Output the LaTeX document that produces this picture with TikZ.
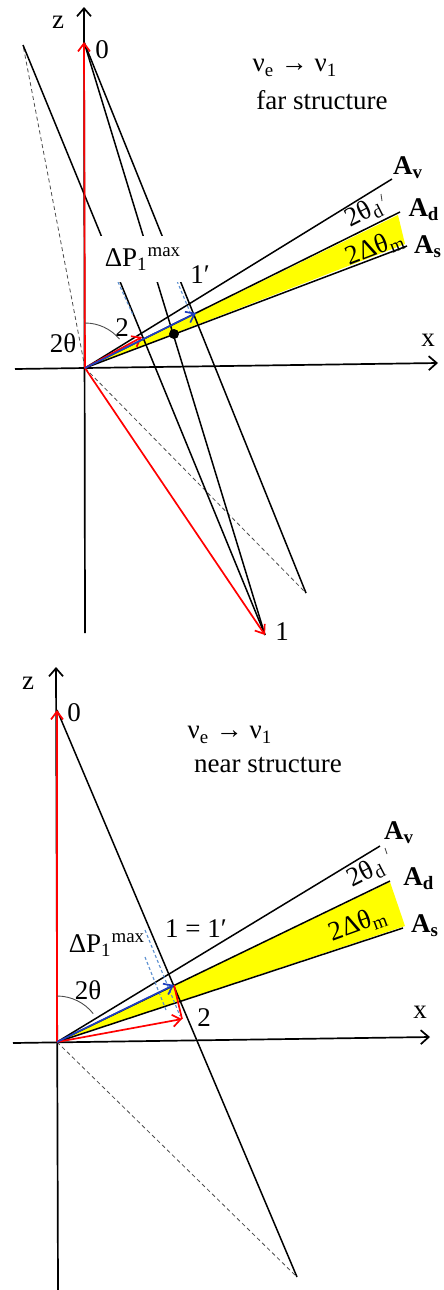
\documentclass[tikz,border=0pt]{standalone}
\usepackage{fontspec}
\setmainfont{Liberation Serif}
\usetikzlibrary{arrows.meta}
\definecolor{vecred}{HTML}{FF0000}
\definecolor{vecblue}{HTML}{1F3FBF}
\definecolor{dashblue}{HTML}{5B8FD0}
\definecolor{bandfill}{HTML}{FFFF00}
\tikzset{
  axis/.style    = {line width=0.85pt, -{Straight Barb[length=4pt,width=7pt]}},
  redvec/.style  = {line width=0.85pt, draw=vecred, -{Straight Barb[length=4pt,width=6pt]}},
  bluevec/.style = {line width=0.85pt, draw=vecblue, -{Straight Barb[length=4pt,width=6pt]}},
  ray/.style     = {line width=0.75pt},
  proj/.style    = {line width=0.4pt, draw=black!70, dash pattern=on 2pt off 1.5pt},
  bproj/.style   = {line width=0.55pt, draw=dashblue, dash pattern=on 1.5pt off 1.2pt},
  arcmark/.style = {line width=0.45pt, draw=black!70},
  lbl/.style     = {font=\fontsize{13.5}{15}\selectfont, inner sep=0pt},
  axlbl/.style   = {font=\fontsize{13.5}{15}\selectfont\bfseries, inner sep=0pt},
  dotmark/.style = {circle, fill=black, inner sep=0pt, minimum size=5pt},
}
\begin{document}
\begin{tikzpicture}[x=0.5pt, y=-0.5pt]
\useasboundingbox (0,0) rectangle (444,1290);

% far structure
\coordinate (O) at (85,368);
\coordinate (zlo) at (85,633);  \coordinate (ztop) at (84,7);
\coordinate (xlo) at (15,369);  \coordinate (xtop) at (438,363);
\coordinate (p0) at (84,42);    \coordinate (p1) at (265,635);
\coordinate (pa) at (23,45);    \coordinate (pb) at (306,593);
\coordinate (av) at (392,179);  \coordinate (ad) at (400,212);
\coordinate (as) at (407,246);
\coordinate (r2) at (142,337);  \coordinate (b2) at (196,313);

\fill[bandfill] (O) -- (398,215) -- (405,244) -- cycle;
\draw[axis] (zlo) -- (ztop);
\draw[axis] (xlo) -- (xtop);
\draw[proj] (O) -- (pa);
\draw[proj] (O) -- (pb);
\draw[ray] (pa) -- (p1);
\draw[ray] (p0) -- (p1);
\draw[ray] (p0) -- (pb);
\foreach \e in {av,ad,as}{\draw[ray] (O) -- (\e);}
\draw[bproj] (118,282) -- (133,315);
\draw[bproj] (177,281) -- (190,312);
\draw[redvec] (O) -- (p0);
\draw[redvec] (O) -- (p1);
\draw[redvec] (O) -- (r2);
\draw[bluevec] (O) -- (b2);
\node[dotmark] (m) at (174,334) {};
\draw[arcmark] (O) ++(0,-45) arc[start angle=90, end angle=40, radius=22.5pt];
\draw[arcmark] (381,194) -- (382,201);

\node[lbl] (zl) at (58,22) {z};
\node[lbl] (l0) at (102,50) {0};
\node[lbl] (xl) at (428,340) {x};
\node[lbl] (l1) at (282,632) {1};
\node[lbl] (l2) at (122,328) {2};
\node[lbl] (lth) at (63,343) {2θ};
\node[lbl] (l1p) at (200,275) {1′};
\node[lbl, fill=white, inner xsep=3pt, minimum height=23pt] (dp) at (143,259)
  {ΔP\textsubscript{1}\textsuperscript{max}};
\node[lbl] (nu) at (295,68) {ν\textsubscript{e} → ν\textsubscript{1}};
\node[lbl] (far) at (322,100) {far structure};
\node[axlbl] (lav) at (408,168) {A\textsubscript{v}};
\node[axlbl] (lad) at (424,210) {A\textsubscript{d}};
\node[axlbl] (las) at (428,247) {A\textsubscript{s}};
\node[lbl, rotate=27] (thd) at (364,213) {2θ\textsubscript{d}};
\node[lbl, rotate=21] (dth) at (375,248) {2Δθ\textsubscript{m}};

% near structure
\coordinate (Q) at (57,1042);
\coordinate (wlo) at (58,1290); \coordinate (wtop) at (56,667);
\coordinate (ylo) at (13,1043); \coordinate (ytop) at (430,1037);
\coordinate (q0) at (57,710);   \coordinate (q3) at (297,1277);
\coordinate (qv) at (380,846);  \coordinate (qd) at (390,881);
\coordinate (qs) at (403,928);
\coordinate (qb) at (174,985);  \coordinate (qr) at (182,1019);

\fill[bandfill] (Q) -- (390,882) -- (405,926) -- cycle;
\draw[axis] (wlo) -- (wtop);
\draw[axis] (ylo) -- (ytop);
\draw[proj] (Q) -- (q3);
\draw[ray] (q0) -- (q3);
\foreach \e in {qv,qd,qs}{\draw[ray] (Q) -- (\e);}
\draw[bproj] (145,930) -- (180,1016);
\draw[bproj] (145,957) -- (166,1010);
\draw[redvec] (Q) -- (q0);
\draw[redvec] (Q) -- (qr);
\draw[line width=0.85pt, draw=vecred] (qb) -- (qr);
\draw[bluevec] (Q) -- (qb);
\draw[arcmark] (Q) ++(0,-46) arc[start angle=90, end angle=38, radius=23pt];
\draw[arcmark] (385,848) -- (387,854);

\node[lbl] (wl) at (28,683) {z};
\node[lbl] (m0) at (74,713) {0};
\node[lbl] (yl) at (420,1012) {x};
\node[lbl] (m2) at (204,1018) {2};
\node[lbl] (mth) at (88,990) {2θ};
\node[lbl] (m1) at (196,929) {1 = 1′};
\node[lbl] (mdp) at (107,945) {ΔP\textsubscript{1}\textsuperscript{max}};
\node[lbl] (mnu) at (230,735) {ν\textsubscript{e} → ν\textsubscript{1}};
\node[lbl] (near) at (268,765) {near structure};
\node[axlbl] (mav) at (399,833) {A\textsubscript{v}};
\node[axlbl] (mad) at (419,879) {A\textsubscript{d}};
\node[axlbl] (mas) at (425,926) {A\textsubscript{s}};
\node[lbl, rotate=27] (mthd) at (366,873) {2θ\textsubscript{d}};
\node[lbl, rotate=20] (mdth) at (358,924) {2Δθ\textsubscript{m}};
\end{tikzpicture}
\end{document}
